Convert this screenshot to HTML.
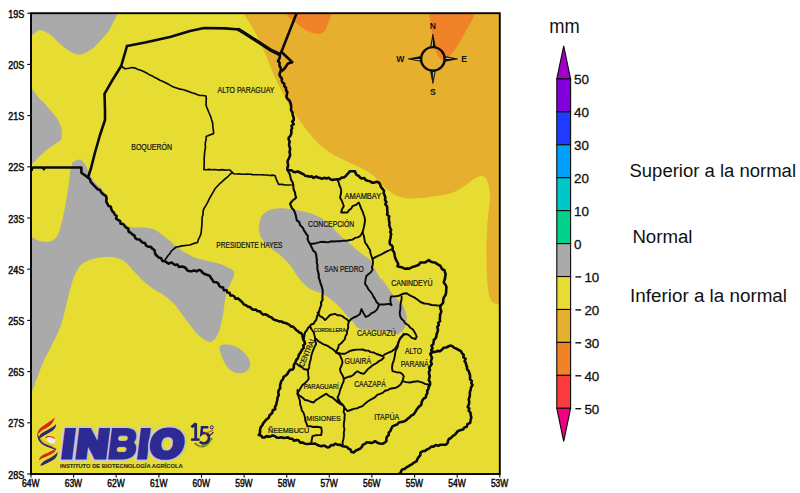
<!DOCTYPE html>
<html lang="es"><head><meta charset="utf-8"><title>Anomalía de precipitación</title>
<style>
html,body{margin:0;padding:0;background:#fff;}
body{width:800px;height:493px;overflow:hidden;font-family:"Liberation Sans",sans-serif;}
svg{display:block;}
text{font-family:"Liberation Sans",sans-serif;}
.ax{font-size:11px;fill:#0c0c0c;stroke:#0c0c0c;stroke-width:.5px;}
.dp{fill:#141414;stroke:#141414;stroke-width:.22px;}
.cb{font-size:13.4px;fill:#111;stroke:#111;stroke-width:.3px;}
.lg{font-size:18px;fill:#111;}
.cp{font-size:8.6px;font-weight:bold;fill:#111;text-anchor:middle;}
</style></head><body>
<svg width="800" height="493" viewBox="0 0 800 493">
<rect width="800" height="493" fill="#fff"/>
<defs><clipPath id="fr"><rect x="31.0" y="13.2" width="468.8" height="460.8"/></clipPath></defs>
<g clip-path="url(#fr)">
<rect x="31.0" y="13.2" width="468.8" height="460.8" fill="#e6dc32"/>
<path d="M243.0,0.0 L243.0,8.0 L243.1,8.4 L243.1,9.0 L243.1,9.6 L243.2,10.3 L243.3,11.1 L243.5,12.1 L243.9,13.2 L244.5,14.5 L245.3,16.0 L246.3,17.7 L247.4,19.6 L248.7,21.6 L250.0,23.6 L251.3,25.8 L252.6,27.9 L253.8,30.0 L254.9,32.1 L256.0,34.3 L257.2,36.5 L258.3,38.8 L259.4,41.0 L260.5,43.3 L261.5,45.4 L262.5,47.5 L263.4,49.5 L264.2,51.4 L265.0,53.3 L265.8,55.2 L266.5,57.0 L267.2,58.8 L268.0,60.6 L268.8,62.5 L269.5,64.4 L270.3,66.2 L271.0,68.1 L271.8,70.0 L272.6,71.9 L273.3,73.8 L274.2,75.6 L275.0,77.5 L275.9,79.4 L276.8,81.3 L277.8,83.2 L278.7,85.2 L279.7,87.1 L280.7,88.9 L281.6,90.7 L282.5,92.5 L283.4,94.2 L284.2,95.9 L285.1,97.6 L285.9,99.2 L286.7,100.8 L287.5,102.2 L288.3,103.7 L289.0,105.0 L289.7,106.2 L290.3,107.3 L290.9,108.3 L291.5,109.3 L292.1,110.2 L292.7,111.1 L293.3,112.0 L294.0,113.0 L294.7,114.0 L295.4,115.0 L296.1,115.9 L296.8,116.9 L297.6,117.9 L298.4,118.9 L299.2,119.9 L300.0,121.0 L300.8,122.1 L301.7,123.3 L302.6,124.5 L303.5,125.8 L304.4,127.1 L305.4,128.3 L306.4,129.7 L307.5,131.0 L308.6,132.4 L309.8,133.8 L311.0,135.3 L312.2,136.8 L313.5,138.2 L314.8,139.7 L316.1,141.1 L317.5,142.5 L318.9,143.8 L320.4,145.2 L321.9,146.4 L323.4,147.7 L325.0,149.0 L326.6,150.2 L328.3,151.4 L330.0,152.5 L331.8,153.6 L333.6,154.7 L335.4,155.7 L337.3,156.7 L339.3,157.7 L341.2,158.6 L343.1,159.6 L345.0,160.5 L346.9,161.4 L348.8,162.3 L350.7,163.2 L352.7,164.0 L354.6,164.9 L356.4,165.7 L358.2,166.6 L360.0,167.5 L361.7,168.4 L363.4,169.3 L365.0,170.2 L366.6,171.1 L368.1,172.0 L369.6,172.9 L371.1,173.9 L372.5,175.0 L373.9,176.1 L375.2,177.4 L376.4,178.6 L377.7,179.9 L378.9,181.2 L380.1,182.5 L381.3,183.8 L382.5,185.0 L383.7,186.2 L384.9,187.3 L386.1,188.5 L387.3,189.6 L388.6,190.7 L389.8,191.7 L391.1,192.6 L392.5,193.5 L393.9,194.3 L395.4,195.0 L396.9,195.7 L398.4,196.3 L400.0,196.8 L401.6,197.3 L403.3,197.7 L405.0,198.0 L406.8,198.2 L408.6,198.4 L410.4,198.4 L412.3,198.4 L414.3,198.3 L416.2,198.2 L418.1,198.1 L420.0,198.0 L421.9,197.9 L423.8,197.7 L425.6,197.5 L427.5,197.3 L429.4,197.1 L431.2,196.8 L433.1,196.5 L435.0,196.2 L436.9,196.0 L438.8,195.7 L440.7,195.4 L442.7,195.1 L444.6,194.8 L446.4,194.4 L448.2,194.0 L450.0,193.5 L451.7,192.9 L453.4,192.3 L455.0,191.6 L456.6,190.8 L458.1,190.0 L459.6,189.2 L461.1,188.3 L462.5,187.5 L463.9,186.6 L465.2,185.6 L466.5,184.6 L467.8,183.6 L469.0,182.6 L470.2,181.6 L471.4,180.8 L472.5,180.0 L473.6,179.3 L474.6,178.7 L475.6,178.1 L476.6,177.6 L477.5,177.1 L478.4,176.7 L479.2,176.5 L480.0,176.2 L480.8,176.1 L481.5,176.1 L482.1,176.1 L482.8,176.2 L483.3,176.4 L483.9,176.6 L484.5,177.0 L485.0,177.5 L485.5,178.1 L486.0,178.8 L486.5,179.6 L487.0,180.5 L487.4,181.5 L487.8,182.6 L488.2,183.8 L488.5,185.0 L488.8,186.3 L489.1,187.8 L489.3,189.3 L489.5,190.9 L489.7,192.6 L489.9,194.3 L490.0,195.9 L490.0,197.5 L490.0,199.1 L489.9,200.6 L489.7,202.2 L489.5,203.8 L489.3,205.3 L489.1,206.9 L488.9,208.4 L488.8,210.0 L488.6,211.6 L488.4,213.2 L488.2,214.8 L488.1,216.4 L487.9,218.0 L487.8,219.6 L487.6,221.1 L487.5,222.5 L487.4,223.9 L487.3,225.1 L487.3,226.3 L487.2,227.5 L487.2,228.7 L487.1,229.9 L487.1,231.1 L487.0,232.5 L486.9,234.0 L486.8,235.5 L486.8,237.1 L486.7,238.8 L486.6,240.4 L486.5,242.0 L486.4,243.5 L486.4,245.0 L486.4,246.4 L486.4,247.6 L486.4,248.8 L486.4,250.0 L486.4,251.2 L486.5,252.4 L486.5,253.7 L486.5,255.0 L486.5,256.4 L486.5,257.8 L486.5,259.3 L486.5,260.8 L486.5,262.3 L486.5,263.9 L486.6,265.4 L486.6,267.0 L486.7,268.6 L486.7,270.3 L486.8,271.9 L486.9,273.6 L487.0,275.3 L487.1,277.0 L487.2,278.5 L487.3,280.0 L487.4,281.4 L487.5,282.7 L487.6,284.0 L487.7,285.2 L487.8,286.4 L487.9,287.6 L488.1,288.6 L488.2,289.7 L488.3,290.7 L488.5,291.7 L488.7,292.6 L488.8,293.4 L489.0,294.2 L489.2,295.0 L489.4,295.8 L489.6,296.5 L489.8,297.2 L490.0,297.8 L490.2,298.4 L490.4,299.0 L490.6,299.6 L490.9,300.1 L491.2,300.5 L491.5,301.0 L491.9,301.4 L492.3,301.8 L492.7,302.2 L493.1,302.5 L493.6,302.8 L494.1,303.1 L494.5,303.4 L495.0,303.6 L495.5,303.8 L495.9,303.9 L496.4,304.1 L496.8,304.2 L497.3,304.2 L497.8,304.3 L498.4,304.3 L499.0,304.4 L499.7,304.5 L500.5,304.5 L501.4,304.5 L502.2,304.5 L503.1,304.6 L503.9,304.6 L504.5,304.6 L505.0,304.6 L510.0,304.6 L510.0,0.0Z" fill="#e6af2d"/>
<path d="M287.0,0.0 L287.0,8.0 L287.0,8.6 L287.0,9.4 L287.0,10.4 L286.9,11.5 L287.0,12.6 L287.0,13.7 L287.2,14.7 L287.5,15.5 L287.9,16.2 L288.4,16.8 L288.9,17.3 L289.6,17.8 L290.2,18.3 L291.0,18.8 L291.7,19.4 L292.5,20.0 L293.3,20.7 L294.2,21.4 L295.1,22.2 L296.1,23.0 L297.1,23.8 L298.1,24.5 L299.0,25.3 L300.0,26.0 L300.9,26.7 L301.9,27.4 L302.8,28.0 L303.7,28.7 L304.6,29.3 L305.6,29.9 L306.5,30.5 L307.5,31.0 L308.5,31.5 L309.6,32.0 L310.6,32.4 L311.7,32.8 L312.8,33.1 L313.9,33.4 L315.0,33.6 L316.0,33.8 L317.0,33.8 L318.1,33.8 L319.1,33.7 L320.2,33.5 L321.2,33.2 L322.1,32.9 L323.0,32.5 L323.8,32.0 L324.4,31.4 L325.0,30.7 L325.5,29.9 L325.9,29.0 L326.3,28.0 L326.7,27.0 L327.1,26.0 L327.5,25.0 L328.0,23.9 L328.5,22.8 L328.9,21.5 L329.4,20.3 L329.9,19.0 L330.3,17.8 L330.7,16.6 L331.0,15.5 L331.3,14.4 L331.4,13.3 L331.6,12.2 L331.7,11.2 L331.8,10.2 L331.9,9.3 L331.9,8.6 L332.0,8.0 L332.0,0.0Z" fill="#f08228"/>
<path d="M429.0,0.0 L429.0,8.0 L429.0,8.5 L429.1,9.2 L429.1,10.0 L429.2,10.9 L429.2,11.8 L429.3,12.9 L429.4,13.9 L429.5,15.0 L429.6,16.1 L429.8,17.2 L430.0,18.4 L430.2,19.7 L430.4,20.9 L430.6,22.3 L430.8,23.6 L431.0,25.0 L431.2,26.4 L431.3,27.9 L431.4,29.5 L431.5,31.1 L431.6,32.7 L431.8,34.3 L432.0,35.8 L432.2,37.4 L432.5,39.0 L432.8,40.6 L433.2,42.2 L433.6,43.8 L434.0,45.4 L434.4,46.8 L434.8,48.2 L435.2,49.5 L435.6,50.6 L436.0,51.7 L436.3,52.6 L436.7,53.5 L437.1,54.3 L437.5,55.0 L437.9,55.7 L438.3,56.4 L438.7,57.0 L439.1,57.6 L439.5,58.2 L439.9,58.6 L440.3,59.1 L440.7,59.4 L441.2,59.6 L441.7,59.8 L442.3,59.9 L442.8,59.9 L443.4,59.8 L444.1,59.6 L444.7,59.3 L445.4,59.0 L446.2,58.6 L446.9,58.1 L447.7,57.5 L448.6,56.8 L449.5,55.9 L450.4,55.0 L451.3,54.1 L452.2,53.1 L453.0,52.1 L453.8,51.2 L454.5,50.3 L455.1,49.4 L455.8,48.4 L456.3,47.4 L456.9,46.5 L457.4,45.5 L458.0,44.6 L458.5,43.8 L459.0,42.9 L459.5,42.2 L460.0,41.4 L460.4,40.7 L460.9,40.0 L461.4,39.2 L461.9,38.3 L462.4,37.4 L463.0,36.4 L463.6,35.3 L464.2,34.1 L464.9,32.9 L465.5,31.7 L466.2,30.4 L466.8,29.2 L467.5,28.0 L468.2,26.8 L468.9,25.6 L469.6,24.4 L470.3,23.3 L471.0,22.1 L471.7,20.9 L472.3,19.6 L472.8,18.4 L473.3,17.1 L473.7,15.6 L474.1,14.1 L474.5,12.6 L474.8,11.2 L475.1,9.9 L475.3,8.8 L475.5,8.0 L476.0,0.0Z" fill="#f08228"/>
<path d="M15.0,0.0 L120.0,0.0 L118.0,8.0 L117.9,8.5 L117.9,9.1 L117.9,9.8 L117.8,10.7 L117.7,11.6 L117.5,12.5 L117.3,13.5 L117.0,14.5 L116.6,15.6 L116.1,16.7 L115.6,17.9 L115.0,19.1 L114.4,20.4 L113.7,21.6 L113.1,22.8 L112.5,24.0 L111.9,25.1 L111.3,26.2 L110.8,27.3 L110.2,28.3 L109.6,29.4 L108.9,30.4 L108.2,31.4 L107.5,32.5 L106.7,33.6 L105.8,34.6 L104.9,35.7 L103.9,36.8 L102.9,37.9 L101.9,38.9 L101.0,40.0 L100.0,41.0 L99.1,42.0 L98.1,43.0 L97.2,44.0 L96.2,45.0 L95.3,46.0 L94.4,46.9 L93.4,47.7 L92.5,48.5 L91.6,49.2 L90.6,49.9 L89.6,50.5 L88.7,51.1 L87.7,51.7 L86.8,52.2 L85.9,52.6 L85.0,53.0 L84.2,53.4 L83.4,53.7 L82.6,54.0 L81.8,54.2 L81.0,54.4 L80.2,54.5 L79.4,54.5 L78.5,54.5 L77.5,54.4 L76.6,54.2 L75.5,53.9 L74.5,53.6 L73.4,53.2 L72.3,52.7 L71.1,52.1 L70.0,51.5 L68.8,50.8 L67.5,49.9 L66.2,49.0 L64.9,48.0 L63.6,47.0 L62.4,46.0 L61.1,45.0 L60.0,44.0 L58.9,43.0 L57.9,42.1 L57.0,41.1 L56.1,40.1 L55.2,39.1 L54.3,38.2 L53.4,37.3 L52.5,36.5 L51.6,35.7 L50.6,35.0 L49.6,34.3 L48.7,33.6 L47.7,33.0 L46.8,32.4 L45.9,31.9 L45.0,31.5 L44.1,31.1 L43.3,30.8 L42.5,30.6 L41.7,30.4 L40.9,30.3 L40.1,30.3 L39.3,30.3 L38.5,30.5 L37.7,30.8 L37.0,31.2 L36.3,31.7 L35.6,32.2 L34.8,32.9 L34.1,33.6 L33.3,34.3 L32.5,35.0 L31.6,35.8 L30.6,36.7 L29.5,37.7 L28.4,38.8 L27.3,39.8 L26.4,40.7 L25.6,41.4 L25.0,42.0 L15.0,42.0Z" fill="#aaaaaa"/>
<path d="M15.0,78.0 L26.0,80.0 L26.4,80.6 L27.0,81.4 L27.7,82.3 L28.4,83.4 L29.2,84.5 L30.0,85.7 L30.8,86.8 L31.6,87.9 L32.4,89.0 L33.1,90.1 L33.9,91.3 L34.7,92.4 L35.5,93.6 L36.3,94.7 L37.1,95.8 L37.9,96.8 L38.7,97.7 L39.5,98.6 L40.4,99.4 L41.2,100.2 L42.1,101.0 L42.9,101.8 L43.8,102.6 L44.6,103.5 L45.4,104.4 L46.3,105.4 L47.2,106.4 L48.0,107.4 L48.9,108.4 L49.7,109.4 L50.5,110.4 L51.3,111.3 L52.1,112.2 L52.8,113.1 L53.5,113.9 L54.3,114.7 L54.9,115.5 L55.6,116.4 L56.2,117.2 L56.8,118.0 L57.3,118.8 L57.8,119.7 L58.3,120.6 L58.7,121.4 L59.2,122.3 L59.5,123.1 L59.9,123.9 L60.2,124.7 L60.5,125.5 L60.7,126.2 L61.0,126.9 L61.2,127.6 L61.3,128.3 L61.5,129.0 L61.6,129.7 L61.7,130.3 L61.8,130.9 L61.8,131.6 L61.9,132.2 L61.9,132.7 L61.9,133.3 L61.9,133.9 L61.8,134.4 L61.8,135.0 L61.8,135.5 L61.8,136.1 L61.9,136.6 L61.9,137.1 L61.9,137.6 L61.8,138.1 L61.6,138.7 L61.3,139.2 L60.9,139.7 L60.3,140.3 L59.6,140.9 L58.9,141.4 L58.1,142.0 L57.3,142.6 L56.5,143.1 L55.7,143.7 L54.9,144.2 L54.1,144.8 L53.3,145.3 L52.4,145.8 L51.6,146.4 L50.7,146.9 L49.8,147.5 L49.0,148.1 L48.2,148.7 L47.3,149.4 L46.4,150.1 L45.6,150.8 L44.7,151.5 L43.9,152.3 L43.1,153.0 L42.3,153.7 L41.5,154.4 L40.8,155.1 L40.1,155.8 L39.4,156.6 L38.7,157.3 L38.0,158.0 L37.3,158.7 L36.7,159.3 L36.1,159.9 L35.6,160.5 L35.0,161.0 L34.5,161.5 L34.0,162.0 L33.5,162.6 L32.9,163.2 L32.3,163.8 L31.6,164.5 L30.7,165.4 L29.8,166.3 L28.9,167.2 L28.0,168.1 L27.2,168.8 L26.5,169.5 L26.0,170.0 L15.0,170.0Z" fill="#aaaaaa"/>
<path d="M72.5,162.5 L72.8,162.3 L73.1,162.1 L73.5,161.8 L73.9,161.5 L74.4,161.2 L74.9,160.9 L75.5,160.7 L76.0,160.5 L76.6,160.3 L77.1,160.1 L77.8,159.9 L78.4,159.8 L79.1,159.6 L79.7,159.6 L80.4,159.7 L81.0,160.0 L81.6,160.4 L82.3,161.0 L82.9,161.6 L83.6,162.4 L84.2,163.2 L84.8,164.1 L85.4,165.1 L86.0,166.0 L86.5,167.0 L87.0,168.1 L87.5,169.2 L88.0,170.4 L88.5,171.6 L89.0,172.8 L89.5,173.9 L90.0,175.0 L90.6,176.0 L91.1,177.0 L91.7,177.9 L92.3,178.8 L92.9,179.8 L93.6,180.7 L94.2,181.6 L95.0,182.5 L95.8,183.4 L96.8,184.4 L97.8,185.3 L98.8,186.3 L99.8,187.2 L100.8,188.2 L101.7,189.1 L102.5,190.0 L103.2,190.9 L103.9,191.8 L104.5,192.7 L105.1,193.5 L105.7,194.4 L106.2,195.3 L106.6,196.1 L107.0,197.0 L107.3,197.9 L107.5,198.7 L107.6,199.6 L107.7,200.4 L107.8,201.3 L107.9,202.1 L108.1,203.1 L108.5,204.0 L109.0,205.0 L109.6,206.0 L110.2,207.1 L111.0,208.2 L111.7,209.3 L112.5,210.4 L113.3,211.5 L114.0,212.5 L114.7,213.5 L115.4,214.5 L116.1,215.5 L116.9,216.4 L117.6,217.3 L118.4,218.3 L119.2,219.1 L120.0,220.0 L120.9,220.9 L121.8,221.7 L122.7,222.6 L123.7,223.4 L124.7,224.1 L125.7,224.9 L126.6,225.5 L127.5,226.0 L128.3,226.4 L129.1,226.7 L129.8,227.0 L130.5,227.1 L131.3,227.2 L132.1,227.3 L133.0,227.4 L134.0,227.5 L135.2,227.6 L136.5,227.5 L137.8,227.5 L139.3,227.4 L140.8,227.4 L142.2,227.4 L143.6,227.4 L145.0,227.5 L146.3,227.7 L147.6,227.9 L148.9,228.1 L150.2,228.4 L151.5,228.8 L152.7,229.1 L153.9,229.6 L155.0,230.0 L156.1,230.5 L157.1,231.1 L158.0,231.6 L158.9,232.3 L159.8,232.9 L160.7,233.6 L161.6,234.3 L162.5,235.0 L163.4,235.7 L164.4,236.4 L165.3,237.2 L166.2,237.9 L167.2,238.7 L168.1,239.4 L169.1,240.2 L170.0,241.0 L170.9,241.8 L171.9,242.6 L172.8,243.5 L173.8,244.3 L174.7,245.2 L175.6,246.0 L176.6,246.8 L177.5,247.5 L178.4,248.2 L179.3,248.9 L180.2,249.5 L181.1,250.1 L182.0,250.7 L182.9,251.3 L183.9,251.9 L185.0,252.5 L186.1,253.1 L187.3,253.8 L188.5,254.4 L189.7,255.1 L191.0,255.7 L192.3,256.4 L193.6,256.9 L195.0,257.5 L196.4,258.0 L197.9,258.5 L199.5,258.9 L201.1,259.4 L202.7,259.8 L204.3,260.2 L205.9,260.6 L207.5,261.0 L209.1,261.4 L210.6,261.7 L212.2,262.0 L213.8,262.3 L215.3,262.7 L216.9,263.1 L218.4,263.5 L220.0,264.0 L221.6,264.6 L223.4,265.3 L225.2,266.1 L226.9,266.9 L228.6,267.7 L230.1,268.5 L231.5,269.3 L232.5,270.0 L233.2,270.7 L233.8,271.3 L234.1,271.8 L234.2,272.4 L234.3,273.0 L234.2,273.6 L234.1,274.3 L234.0,275.0 L233.8,275.8 L233.6,276.7 L233.2,277.6 L232.8,278.6 L232.4,279.6 L231.9,280.6 L231.4,281.5 L231.0,282.5 L230.6,283.4 L230.1,284.3 L229.7,285.2 L229.2,286.1 L228.8,287.0 L228.3,287.9 L227.9,288.9 L227.5,290.0 L227.1,291.1 L226.8,292.3 L226.4,293.6 L226.1,294.8 L225.8,296.1 L225.5,297.4 L225.2,298.7 L225.0,300.0 L224.8,301.2 L224.6,302.5 L224.5,303.7 L224.4,304.9 L224.2,306.1 L224.1,307.4 L223.9,308.7 L223.8,310.0 L223.5,311.4 L223.3,312.9 L223.0,314.4 L222.7,316.0 L222.4,317.6 L222.1,319.1 L221.8,320.6 L221.5,322.0 L221.2,323.4 L220.9,324.7 L220.5,326.0 L220.2,327.3 L219.9,328.6 L219.5,329.8 L219.1,330.9 L218.8,332.0 L218.3,333.0 L217.9,334.1 L217.5,335.0 L217.0,335.9 L216.5,336.8 L216.0,337.6 L215.5,338.3 L215.0,339.0 L214.4,339.6 L213.8,340.1 L213.2,340.6 L212.6,341.1 L211.9,341.4 L211.3,341.7 L210.6,341.9 L210.0,342.0 L209.4,342.0 L208.8,341.9 L208.2,341.8 L207.7,341.6 L207.1,341.3 L206.4,340.9 L205.7,340.5 L205.0,340.0 L204.2,339.5 L203.3,338.9 L202.4,338.2 L201.4,337.4 L200.4,336.6 L199.4,335.8 L198.5,334.9 L197.5,334.0 L196.6,333.0 L195.6,332.0 L194.7,330.9 L193.8,329.8 L192.8,328.6 L191.9,327.4 L190.9,326.2 L190.0,325.0 L189.1,323.8 L188.1,322.6 L187.2,321.3 L186.2,320.1 L185.3,318.8 L184.4,317.5 L183.4,316.3 L182.5,315.0 L181.6,313.7 L180.7,312.5 L179.8,311.2 L178.9,309.9 L178.0,308.7 L177.1,307.4 L176.1,306.2 L175.0,305.0 L173.9,303.8 L172.7,302.6 L171.4,301.4 L170.2,300.2 L168.9,299.1 L167.6,298.0 L166.3,297.0 L165.0,296.0 L163.8,295.1 L162.5,294.3 L161.2,293.6 L160.0,292.9 L158.8,292.2 L157.5,291.5 L156.2,290.8 L155.0,290.0 L153.8,289.2 L152.5,288.3 L151.2,287.4 L150.0,286.5 L148.8,285.6 L147.5,284.6 L146.2,283.6 L145.0,282.5 L143.7,281.4 L142.4,280.1 L141.1,278.9 L139.8,277.6 L138.6,276.2 L137.3,275.0 L136.1,273.7 L135.0,272.5 L133.9,271.3 L132.9,270.2 L132.0,269.0 L131.1,267.9 L130.2,266.9 L129.3,265.8 L128.4,264.9 L127.5,264.0 L126.6,263.2 L125.7,262.4 L124.8,261.7 L123.9,261.1 L123.0,260.5 L122.1,260.0 L121.1,259.5 L120.0,259.0 L118.9,258.6 L117.7,258.2 L116.5,257.9 L115.3,257.6 L114.0,257.4 L112.7,257.2 L111.4,257.1 L110.0,257.0 L108.5,257.0 L107.0,257.0 L105.4,257.1 L103.8,257.2 L102.1,257.3 L100.5,257.5 L99.0,257.8 L97.5,258.0 L96.1,258.3 L94.8,258.6 L93.5,258.9 L92.2,259.2 L91.0,259.6 L89.8,260.1 L88.6,260.5 L87.5,261.0 L86.4,261.5 L85.4,262.0 L84.4,262.4 L83.5,263.0 L82.6,263.6 L81.7,264.2 L80.9,265.1 L80.0,266.0 L79.1,267.1 L78.3,268.4 L77.5,269.8 L76.6,271.3 L75.9,272.8 L75.1,274.4 L74.4,276.0 L73.8,277.5 L73.2,279.0 L72.6,280.5 L72.2,282.0 L71.7,283.5 L71.3,285.1 L70.9,286.7 L70.5,288.3 L70.0,290.0 L69.5,291.8 L69.1,293.6 L68.6,295.4 L68.1,297.3 L67.7,299.3 L67.2,301.2 L66.7,303.1 L66.2,305.0 L65.8,306.9 L65.3,308.8 L64.9,310.7 L64.4,312.7 L64.0,314.6 L63.5,316.4 L63.0,318.2 L62.5,320.0 L62.0,321.7 L61.4,323.4 L60.9,325.0 L60.3,326.7 L59.7,328.2 L59.1,329.7 L58.6,331.1 L58.0,332.5 L57.5,333.7 L56.9,334.9 L56.4,335.9 L55.9,336.9 L55.4,337.9 L54.9,338.9 L54.3,339.9 L53.8,341.0 L53.2,342.2 L52.6,343.4 L51.9,344.6 L51.3,345.9 L50.7,347.2 L50.0,348.5 L49.4,349.7 L48.8,351.0 L48.1,352.3 L47.5,353.5 L46.8,354.8 L46.2,356.1 L45.5,357.3 L44.9,358.6 L44.3,359.8 L43.8,361.0 L43.2,362.2 L42.7,363.3 L42.3,364.4 L41.8,365.5 L41.4,366.6 L40.9,367.7 L40.5,368.8 L40.0,370.0 L39.5,371.2 L39.1,372.4 L38.6,373.7 L38.1,374.9 L37.7,376.2 L37.2,377.5 L36.7,378.7 L36.2,380.0 L35.8,381.2 L35.4,382.5 L35.0,383.7 L34.5,384.9 L34.1,386.1 L33.6,387.4 L33.1,388.7 L32.5,390.0 L31.8,391.5 L30.9,393.1 L30.0,394.9 L29.0,396.6 L28.1,398.3 L27.2,399.8 L26.5,401.1 L26.0,402.0 L15.0,402.0 L15.0,235.0 L25.0,235.5 L25.6,235.6 L26.4,235.8 L27.4,236.1 L28.4,236.3 L29.5,236.6 L30.6,236.9 L31.6,237.2 L32.5,237.5 L33.3,237.8 L34.0,238.2 L34.7,238.6 L35.3,239.0 L36.0,239.5 L36.6,239.8 L37.3,240.2 L38.0,240.5 L38.7,240.8 L39.5,241.0 L40.2,241.2 L41.0,241.4 L41.7,241.5 L42.5,241.6 L43.2,241.7 L44.0,241.8 L44.8,241.9 L45.5,241.9 L46.3,241.9 L47.1,241.9 L47.8,241.9 L48.6,241.8 L49.3,241.7 L50.0,241.5 L50.7,241.3 L51.3,241.0 L52.0,240.7 L52.6,240.4 L53.2,240.0 L53.8,239.6 L54.4,239.1 L55.0,238.5 L55.5,237.9 L56.1,237.3 L56.6,236.7 L57.1,236.0 L57.5,235.2 L58.0,234.3 L58.5,233.2 L59.0,232.0 L59.5,230.5 L60.0,228.9 L60.5,227.1 L61.0,225.2 L61.6,223.1 L62.1,221.1 L62.5,219.0 L63.0,217.0 L63.4,215.0 L63.9,212.8 L64.3,210.7 L64.7,208.5 L65.1,206.3 L65.5,204.2 L65.9,202.0 L66.2,200.0 L66.6,198.0 L67.0,196.1 L67.3,194.1 L67.6,192.2 L67.9,190.4 L68.2,188.5 L68.5,186.7 L68.8,185.0 L69.0,183.3 L69.1,181.6 L69.3,180.0 L69.4,178.4 L69.5,176.9 L69.6,175.4 L69.8,173.9 L70.0,172.5 L70.3,171.1 L70.6,169.6 L71.0,168.1 L71.3,166.7 L71.7,165.4 L72.0,164.2 L72.3,163.3 L72.5,162.5Z" fill="#aaaaaa"/>
<path d="M262.5,215.0 L263.2,214.3 L264.0,213.6 L264.8,212.9 L265.8,212.2 L266.8,211.6 L267.8,211.0 L268.9,210.5 L270.0,210.0 L271.1,209.6 L272.3,209.3 L273.5,209.0 L274.7,208.7 L276.0,208.5 L277.3,208.4 L278.6,208.3 L280.0,208.2 L281.4,208.3 L282.9,208.3 L284.4,208.4 L285.9,208.6 L287.5,208.8 L289.1,209.0 L290.8,209.2 L292.5,209.5 L294.3,209.8 L296.1,210.1 L298.1,210.4 L300.0,210.8 L301.9,211.2 L303.9,211.6 L305.7,212.0 L307.5,212.5 L309.2,213.0 L310.9,213.6 L312.5,214.1 L314.1,214.7 L315.6,215.4 L317.1,216.0 L318.6,216.7 L320.0,217.5 L321.4,218.3 L322.7,219.2 L324.1,220.1 L325.3,221.1 L326.6,222.1 L327.8,223.1 L328.9,224.0 L330.0,225.0 L331.0,226.0 L332.0,226.9 L332.9,227.9 L333.8,228.9 L334.6,229.8 L335.4,230.8 L336.2,231.7 L337.0,232.5 L337.8,233.3 L338.5,234.0 L339.3,234.7 L340.0,235.4 L340.7,236.0 L341.5,236.7 L342.2,237.3 L343.0,238.0 L343.8,238.7 L344.6,239.3 L345.4,240.0 L346.2,240.7 L347.1,241.4 L348.0,242.1 L349.0,242.9 L350.0,243.8 L351.1,244.7 L352.3,245.8 L353.5,246.9 L354.8,248.0 L356.1,249.2 L357.4,250.3 L358.7,251.4 L360.0,252.5 L361.3,253.5 L362.6,254.4 L364.0,255.3 L365.3,256.2 L366.6,257.1 L367.9,258.0 L369.0,259.0 L370.0,260.0 L370.9,261.1 L371.6,262.1 L372.2,263.3 L372.8,264.4 L373.3,265.6 L373.9,266.7 L374.4,267.9 L375.0,269.0 L375.6,270.2 L376.3,271.4 L377.0,272.7 L377.6,273.9 L378.3,275.1 L378.9,276.2 L379.5,277.2 L380.0,278.0 L380.4,278.5 L380.8,278.9 L381.1,279.0 L381.4,279.1 L381.7,279.2 L382.0,279.3 L382.4,279.5 L382.8,280.0 L383.3,280.7 L383.9,281.5 L384.5,282.4 L385.2,283.4 L385.8,284.5 L386.5,285.5 L387.2,286.5 L387.8,287.5 L388.4,288.4 L389.0,289.3 L389.7,290.2 L390.3,291.1 L390.9,292.0 L391.5,292.9 L392.2,293.7 L392.8,294.5 L393.4,295.3 L394.1,296.0 L394.7,296.7 L395.3,297.4 L396.0,298.0 L396.6,298.7 L397.3,299.3 L397.9,300.0 L398.5,300.6 L399.2,301.3 L399.9,301.9 L400.6,302.4 L401.2,303.0 L401.8,303.7 L402.4,304.3 L402.9,305.0 L403.3,305.7 L403.7,306.5 L404.1,307.3 L404.4,308.1 L404.7,308.9 L404.9,309.8 L405.2,310.6 L405.4,311.4 L405.6,312.2 L405.9,313.0 L406.1,313.8 L406.2,314.6 L406.4,315.3 L406.5,316.1 L406.6,316.9 L406.7,317.7 L406.7,318.5 L406.7,319.3 L406.7,320.1 L406.6,320.9 L406.5,321.7 L406.3,322.5 L406.2,323.2 L406.0,324.0 L405.8,324.8 L405.5,325.5 L405.3,326.3 L405.0,327.0 L404.7,327.7 L404.3,328.4 L403.9,329.1 L403.5,329.7 L403.0,330.3 L402.5,330.8 L401.9,331.4 L401.3,331.9 L400.7,332.4 L400.1,332.8 L399.5,333.2 L399.0,333.5 L398.5,333.8 L398.1,334.0 L397.6,334.2 L397.2,334.4 L396.8,334.5 L396.3,334.6 L395.8,334.6 L395.3,334.5 L394.8,334.3 L394.3,334.1 L393.7,333.8 L393.2,333.4 L392.6,333.0 L391.9,332.6 L391.0,332.3 L390.0,332.0 L388.8,331.8 L387.5,331.5 L386.0,331.3 L384.5,331.2 L382.8,331.0 L381.1,330.8 L379.4,330.7 L377.7,330.5 L375.9,330.4 L373.9,330.3 L371.9,330.2 L369.8,330.1 L367.7,330.0 L365.8,329.9 L364.1,329.7 L362.6,329.5 L361.4,329.2 L360.4,328.9 L359.5,328.6 L358.8,328.2 L358.2,327.9 L357.6,327.4 L357.0,327.0 L356.4,326.5 L355.8,326.0 L355.3,325.4 L354.9,324.8 L354.4,324.1 L354.0,323.5 L353.6,322.8 L353.1,322.2 L352.6,321.5 L352.0,320.9 L351.5,320.3 L350.9,319.8 L350.4,319.2 L349.7,318.6 L349.1,317.9 L348.3,317.1 L347.5,316.2 L346.6,315.2 L345.6,314.0 L344.5,312.7 L343.4,311.4 L342.2,310.0 L341.0,308.7 L339.9,307.4 L338.8,306.2 L337.6,305.2 L336.5,304.1 L335.4,303.1 L334.3,302.2 L333.2,301.3 L332.1,300.4 L331.0,299.6 L330.0,298.8 L329.0,298.0 L328.1,297.3 L327.2,296.6 L326.3,296.0 L325.4,295.4 L324.5,294.9 L323.5,294.3 L322.5,293.8 L321.4,293.2 L320.1,292.8 L318.8,292.3 L317.5,291.9 L316.2,291.4 L314.9,291.0 L313.6,290.5 L312.5,290.0 L311.4,289.5 L310.4,288.9 L309.5,288.4 L308.6,287.8 L307.7,287.2 L306.8,286.5 L305.9,285.8 L305.0,285.0 L304.1,284.1 L303.1,283.1 L302.2,282.1 L301.2,281.0 L300.3,279.9 L299.4,278.7 L298.4,277.5 L297.5,276.2 L296.6,275.0 L295.7,273.6 L294.8,272.2 L293.9,270.7 L293.0,269.2 L292.1,267.8 L291.1,266.4 L290.0,265.0 L288.9,263.7 L287.7,262.4 L286.4,261.0 L285.2,259.8 L283.9,258.5 L282.6,257.3 L281.3,256.1 L280.0,255.0 L278.7,254.0 L277.5,253.0 L276.2,252.1 L274.9,251.2 L273.7,250.4 L272.4,249.5 L271.2,248.5 L270.0,247.5 L268.8,246.4 L267.6,245.2 L266.4,243.9 L265.2,242.7 L264.0,241.4 L263.0,240.1 L262.0,238.8 L261.2,237.5 L260.6,236.2 L260.1,234.9 L259.7,233.6 L259.4,232.3 L259.1,231.0 L259.0,229.8 L258.8,228.6 L258.8,227.5 L258.7,226.5 L258.8,225.6 L258.9,224.8 L259.1,224.0 L259.3,223.2 L259.5,222.5 L259.8,221.8 L260.0,221.0 L260.2,220.2 L260.4,219.4 L260.6,218.7 L260.9,217.9 L261.1,217.2 L261.5,216.4 L261.9,215.7Z" fill="#aaaaaa"/>
<path d="M220.0,346.2 L220.5,345.8 L221.3,345.4 L222.1,345.1 L223.1,344.8 L224.2,344.6 L225.3,344.5 L226.4,344.5 L227.5,344.5 L228.6,344.6 L229.9,344.8 L231.2,345.1 L232.5,345.5 L233.8,345.9 L235.1,346.4 L236.4,346.9 L237.5,347.5 L238.6,348.1 L239.6,348.8 L240.6,349.6 L241.6,350.3 L242.5,351.2 L243.4,352.0 L244.2,352.9 L245.0,353.8 L245.8,354.6 L246.6,355.5 L247.3,356.5 L248.0,357.4 L248.7,358.4 L249.2,359.3 L249.7,360.3 L250.0,361.2 L250.2,362.2 L250.2,363.2 L250.2,364.2 L250.1,365.2 L249.9,366.2 L249.6,367.1 L249.2,368.0 L248.8,368.8 L248.2,369.5 L247.6,370.2 L246.8,370.8 L246.0,371.4 L245.2,371.9 L244.3,372.3 L243.4,372.7 L242.5,373.0 L241.6,373.2 L240.7,373.3 L239.7,373.3 L238.8,373.2 L237.8,373.1 L236.8,373.0 L235.9,372.8 L235.0,372.5 L234.2,372.2 L233.3,371.9 L232.5,371.5 L231.7,371.1 L230.9,370.6 L230.2,370.0 L229.5,369.4 L228.8,368.8 L228.1,368.0 L227.4,367.2 L226.7,366.3 L226.1,365.3 L225.4,364.3 L224.8,363.3 L224.3,362.3 L223.8,361.2 L223.2,360.2 L222.8,359.1 L222.3,358.0 L221.8,356.8 L221.4,355.7 L221.1,354.5 L220.8,353.5 L220.5,352.5 L220.3,351.6 L220.0,350.7 L219.8,349.8 L219.6,348.9 L219.5,348.2 L219.5,347.4 L219.7,346.8Z" fill="#aaaaaa"/>
<g fill="none" stroke="#0a0a0a" stroke-linejoin="round" stroke-linecap="round">
<g stroke-width="1.65">
<path d="M121.0,66.0 L125.0,68.8 L128.8,68.2 L132.5,67.5 L135.1,68.1 L137.5,69.3 L140.0,70.0 L142.6,71.1 L145.1,72.3 L147.6,73.6 L149.9,75.1 L152.6,76.1 L154.9,77.6 L157.5,78.8 L159.9,80.3 L162.5,81.2 L165.0,82.4 L167.5,83.7 L170.0,85.1 L172.4,86.4 L175.0,87.5 L177.5,88.3 L180.0,89.1 L182.6,89.5 L185.1,90.3 L187.5,91.1 L190.0,92.0 L192.5,93.0 L195.0,93.6 L197.5,94.7 L200.0,95.5 L203.0,95.5 L206.0,96.0 L206.3,99.0 L206.1,102.0 L206.0,105.0 L206.9,107.5 L207.9,110.0 L208.9,112.5 L210.0,115.0 L211.0,117.5 L211.7,120.0 L212.5,122.5 L212.8,125.3 L213.0,128.1 L213.5,130.9 L213.5,133.8 L209.8,134.9 L206.2,136.5 L206.2,139.2 L205.5,141.8 L205.2,144.4 L205.5,147.1 L205.0,149.7 L204.6,152.3 L204.5,155.0 L204.1,157.9 L204.2,160.8 L204.2,163.7 L204.1,166.6 L203.8,169.5"/>
<path d="M203.8,169.5 L206.4,169.8 L209.0,169.4 L211.6,169.7 L214.3,169.5 L216.9,169.8 L219.5,170.1 L222.1,169.6 L224.7,170.1 L227.4,170.0 L230.0,170.0 L231.7,172.0 L233.8,173.8 L236.5,174.0 L239.3,173.8 L242.0,174.3 L244.8,174.2 L247.5,174.0 L250.3,174.2 L253.0,174.6 L255.8,174.7 L258.5,174.7 L261.3,174.7 L264.0,174.9 L266.8,175.0 L269.5,175.5 L272.3,175.1 L275.0,175.5 L276.1,178.6 L277.3,181.6 L278.8,184.5 L281.9,184.4 L285.0,185.0 L288.1,185.0 L291.2,185.0"/>
<path d="M232.5,172.5 L230.2,174.2 L228.2,176.3 L226.0,178.2 L223.8,180.0 L221.6,182.2 L219.2,184.2 L217.1,186.5 L215.0,188.8 L213.4,191.7 L211.7,194.6 L210.0,197.5 L208.6,200.4 L207.1,203.3 L205.5,206.1 L203.8,208.8 L203.1,211.5 L203.0,214.4 L202.2,217.1 L202.0,220.0 L202.0,223.1 L201.8,226.3 L201.4,229.4 L201.2,232.5 L200.5,235.1 L199.4,237.5 L198.2,239.9 L197.5,242.5 L194.9,243.1 L192.4,244.0 L190.0,245.0 L187.2,245.3 L184.5,245.6 L181.7,245.9 L179.0,246.6 L176.2,247.0 L173.7,249.0 L171.2,251.2 L169.9,253.6 L168.0,255.5 L166.6,257.8 L165.0,260.0"/>
</g><g stroke-width="1.9">
<path d="M310.0,243.8 L313.0,243.7 L316.0,243.2 L319.0,242.4 L321.9,241.8 L325.0,242.0 L328.0,242.4 L331.0,241.3 L334.0,241.5 L337.0,241.2 L340.0,241.2 L343.3,240.6 L346.7,240.7 L350.0,240.0 L352.7,239.6 L354.9,237.9 L357.6,237.4 L360.0,236.2 L362.5,232.5"/>
<path d="M337.5,180.0 L338.7,182.4 L339.3,185.0 L340.4,187.5 L341.2,190.0 L341.0,193.8 L340.0,197.5 L341.6,200.3 L342.8,203.2 L343.8,206.2 L342.0,209.2 L341.2,212.5 L344.4,212.5 L347.5,212.5 L348.9,210.2 L351.2,208.6 L352.5,206.2 L355.9,204.9 L358.8,202.5 L360.1,205.6 L361.2,208.8 L362.6,211.4 L363.5,214.3 L364.5,217.0 L365.0,220.0 L364.6,223.8 L363.8,227.5 L362.5,232.5"/>
<path d="M362.5,232.5 L363.8,235.7 L364.5,239.1 L365.0,242.5 L366.9,244.8 L368.3,247.5 L370.0,250.0 L370.4,253.0 L371.4,255.9 L372.5,258.8 L375.0,257.4 L377.5,256.2 L380.0,255.0 L382.5,253.8 L384.9,252.4 L387.4,251.1 L390.0,250.0 L392.5,249.0"/>
<path d="M372.5,259.0 L373.0,261.8 L372.8,264.5 L371.9,267.2 L372.5,270.0 L370.7,272.4 L368.3,274.2 L366.2,276.2 L365.5,280.0 L365.0,283.8 L367.0,286.3 L368.2,289.0 L370.2,291.3 L372.0,293.7 L373.3,296.4 L375.1,299.1 L376.5,302.0 L379.0,304.5 L384.0,304.5 L389.0,303.9 L391.6,305.2 L390.7,302.7 L390.3,300.0 L391.0,296.4 L395.3,296.4 L399.0,295.7 L402.9,293.8 L406.7,293.2 L410.4,295.7 L413.0,296.8 L415.5,298.2 L418.0,300.0 L420.5,302.0 L424.1,303.5 L428.0,303.9 L431.7,305.0 L435.6,305.2 L438.3,305.6 L441.0,305.2"/>
<path d="M379.0,305.0 L377.0,309.6 L374.5,311.9 L371.4,313.3 L368.9,315.6 L365.8,317.0 L363.3,312.7 L361.4,309.0 L360.0,314.0 L356.4,316.5 L353.7,317.5 L351.3,319.0 L348.8,321.5 L347.0,319.4 L344.6,318.0 L342.5,316.2 L340.0,315.3 L337.3,315.2 L335.0,313.8 L330.0,315.0 L327.6,317.6 L325.0,320.0 L322.8,317.7 L320.0,316.2 L317.5,312.5"/>
<path d="M348.8,321.5 L348.1,324.6 L348.2,327.8 L347.1,330.8 L346.9,334.0 L345.4,336.3 L345.0,339.0 L343.1,341.2 L341.2,343.3 L338.8,345.0 L338.3,347.6 L337.1,350.0 L336.2,352.5"/>
<path d="M310.0,326.2 L311.7,329.5 L313.8,332.5 L315.0,337.5 L315.1,340.7 L316.2,343.8 L314.8,346.4 L313.6,349.2 L312.5,352.0 L311.4,355.3 L310.9,358.7 L310.0,362.0 L309.3,364.7 L309.2,367.5 L308.0,370.0 L303.8,369.0 L301.7,367.1 L299.1,365.9 L297.0,364.0"/>
<path d="M316.2,339.0 L318.0,341.0 L320.3,342.3 L322.5,343.8 L325.1,344.8 L327.7,345.9 L330.0,347.5 L333.2,349.5 L336.0,352.0"/>
<path d="M308.0,370.0 L308.1,372.9 L308.3,375.9 L308.8,378.8 L307.0,381.2 L304.9,383.3 L302.5,385.0 L300.6,388.1 L298.8,391.2 L297.5,393.8"/>
<path d="M297.5,393.8 L299.9,395.9 L302.6,397.8 L305.0,400.0 L308.0,400.5 L310.8,401.8 L313.8,402.5 L315.5,400.4 L317.8,399.0 L320.0,397.5 L323.1,395.6 L326.2,393.8 L329.1,396.1 L332.5,397.5 L334.9,399.7 L337.2,402.0 L340.0,403.8 L343.0,405.5"/>
<path d="M336.2,352.5 L340.0,355.0 L340.9,357.5 L342.0,359.9 L342.5,362.5 L341.5,365.7 L340.0,368.8 L340.4,371.4 L341.6,373.8 L343.0,376.2 L343.8,378.8 L343.5,381.8 L342.1,384.6 L341.2,387.5 L340.1,389.9 L339.5,392.5 L338.7,395.1 L337.5,397.5 L340.0,402.0"/>
<path d="M336.2,352.5 L339.1,353.1 L342.0,353.8 L345.0,353.8 L347.8,352.2 L350.6,350.7 L353.8,350.0 L356.7,349.6 L359.6,349.6 L362.5,349.5 L365.3,350.5 L368.2,350.6 L370.8,352.1 L373.8,352.5 L376.6,354.0 L379.6,355.0 L382.5,356.2 L385.4,354.1 L388.8,352.5 L392.2,351.1 L395.0,348.8 L397.5,345.0 L398.5,341.8 L400.0,338.8 L402.2,336.5 L403.8,333.8"/>
<path d="M343.8,378.8 L346.1,377.6 L348.6,376.8 L351.2,376.2 L353.5,374.8 L355.3,372.7 L357.5,371.2 L360.4,373.0 L363.8,373.8 L365.8,371.7 L367.7,369.3 L370.0,367.5 L372.0,365.7 L374.3,364.3 L376.7,363.0 L378.8,361.2 L381.6,359.8 L383.8,357.5"/>
<path d="M401.6,296.4 L401.6,299.4 L400.9,302.3 L400.4,305.2 L400.4,309.0 L399.7,312.7 L400.1,316.0 L401.6,319.0 L403.8,320.9 L405.4,323.4 L408.3,325.2 L410.4,327.8 L412.7,329.3 L414.2,331.6 L415.6,334.0 L416.7,336.6 L415.5,339.0 L411.7,337.9 L409.5,335.6 L406.7,334.0 L403.5,334.7 L400.4,337.9 L399.0,341.0 L398.2,344.2 L397.5,347.5 L396.1,349.8 L395.3,352.3 L395.0,355.0 L394.4,358.0 L393.7,360.9 L392.5,363.8 L392.0,367.5 L392.5,371.2 L396.2,372.2 L400.0,372.5 L402.3,374.0 L403.8,376.2 L402.5,381.2"/>
<path d="M402.5,381.2 L406.2,382.1 L410.0,382.5 L413.7,381.7 L417.5,381.2 L420.0,381.9 L422.6,382.7 L425.0,383.8 L430.0,385.0"/>
<path d="M402.5,381.2 L400.9,384.0 L398.8,386.2 L396.0,387.7 L393.0,388.2 L390.0,388.8 L387.6,390.2 L384.8,390.8 L382.7,392.9 L380.0,393.8 L377.2,394.8 L375.2,397.2 L372.6,398.6 L370.0,400.0 L367.3,401.8 L364.8,403.9 L362.5,406.2 L359.6,407.2 L356.8,408.4 L353.8,408.8 L350.6,410.0 L347.5,411.2 L345.5,408.8 L343.8,406.2 L342.0,403.8 L339.3,402.3 L337.5,400.0"/>
<path d="M343.8,406.2 L344.1,409.0 L343.6,411.8 L344.8,414.5 L344.5,417.2 L344.5,420.0 L343.9,423.1 L343.8,426.2 L344.5,429.4 L343.8,432.5 L343.9,435.9 L343.4,439.2 L342.5,442.5 L343.0,446.2"/>
<path d="M297.5,390.0 L297.6,393.8 L298.8,397.5 L299.9,400.8 L300.1,404.2 L301.2,407.5 L301.7,410.2 L303.3,412.4 L304.3,414.9 L305.0,417.5 L305.3,420.6 L306.5,423.4 L307.5,426.2 L310.3,426.2 L313.0,427.0 L315.8,426.8 L318.5,427.0 L321.2,427.5 L321.8,431.2 L321.2,435.0 L318.3,435.1 L315.3,435.3 L312.5,436.2 L311.7,440.0 L311.2,443.8"/>
</g><g stroke-width="2.1">
<path d="M287.5,170.0 L288.8,172.4 L290.0,174.8 L290.5,177.4 L291.2,180.0 L292.6,182.3 L293.2,184.8 L293.4,187.4 L293.8,190.0 L295.0,192.4 L295.3,195.0 L296.2,197.5 L294.7,199.0 L292.8,200.3 L291.4,202.0 L290.0,203.8 L291.0,206.0 L292.0,208.2 L293.8,210.0 L294.8,212.4 L295.7,214.9 L296.2,217.5 L296.8,220.3 L299.3,222.2 L300.0,225.0 L303.0,228.0 L303.8,230.1 L305.0,231.9 L306.2,233.8 L307.9,236.0 L307.6,238.9 L308.5,241.5 L310.0,243.8 L311.1,246.1 L312.2,248.4 L313.3,250.7 L315.5,252.5 L316.2,255.0 L316.5,257.5 L316.9,260.0 L316.7,262.6 L317.5,265.0 L317.3,267.6 L317.6,270.1 L318.3,272.5 L318.8,275.0 L318.8,277.7 L319.7,280.1 L320.3,282.6 L321.2,285.0 L322.0,287.4 L322.6,289.9 L322.8,292.4 L322.5,295.0 L322.4,297.5 L322.5,300.1 L321.0,302.4 L321.2,305.0 L320.3,307.5 L319.4,309.9 L318.8,312.5 L317.7,314.9 L316.8,317.4 L316.2,320.0 L314.7,321.6 L313.7,323.7 L311.2,324.4 L310.0,326.2 L308.0,328.1 L306.7,330.4 L305.0,332.5 L304.3,335.6 L303.8,338.8"/>
</g><g stroke-width="2.6">
<path d="M127.0,46.0 L145.0,42.5 L170.0,37.0 L190.0,31.0 L204.0,28.0 L225.0,28.4 L239.5,29.5 L245.2,33.3 L257.7,41.4 L270.3,49.6 L280.0,54.0"/>
<path d="M280.0,54.0 L280.0,56.0 L279.4,58.6 L278.0,61.0 L279.6,62.9 L279.4,65.5 L280.5,67.5 L281.1,70.1 L279.8,72.5 L279.5,75.0 L280.5,76.8 L281.9,78.4 L281.7,80.6 L282.5,82.5 L284.3,83.9 L284.4,86.2 L286.0,87.7 L286.0,90.0 L287.3,92.0 L286.9,94.3 L286.4,96.7 L287.5,98.8 L289.4,100.4 L290.4,102.6 L291.0,105.0 L291.2,107.6 L291.0,110.2 L292.5,112.5 L292.7,115.0 L293.6,117.5 L293.8,120.0 L292.2,121.7 L293.7,124.2 L291.5,125.8 L292.2,128.1 L291.2,130.0 L291.5,132.2 L291.1,134.2 L290.2,136.1 L288.6,137.8 L288.8,140.0 L289.7,141.9 L289.1,144.0 L289.2,146.0 L290.0,148.0 L290.0,150.0 L289.5,152.0 L290.1,154.2 L289.8,156.2 L289.0,158.1 L288.0,160.0 L287.5,162.0 L288.0,164.0 L288.1,166.0 L287.4,168.0 L287.5,170.0 L289.6,170.3 L291.8,170.4 L293.6,171.9 L295.7,172.1 L298.0,171.5 L300.0,172.5 L301.8,173.5 L303.7,174.3 L305.3,175.9 L307.5,176.0 L309.5,176.8 L311.7,176.2 L313.6,178.0 L316.0,176.5 L317.9,177.5 L320.0,178.0 L322.1,178.8 L324.4,177.7 L326.4,178.6 L328.7,177.8 L330.7,179.4 L332.8,179.9 L335.0,179.5 L337.2,179.2 L339.6,179.3 L341.5,177.6 L343.8,177.5 L345.6,176.2 L347.0,174.5 L348.6,172.9 L350.0,171.2 L352.5,171.2 L355.0,171.2 L355.7,173.3 L356.7,175.0 L358.8,175.9 L360.0,177.5 L361.9,178.6 L364.3,178.1 L365.8,180.2 L367.9,180.8 L370.0,181.2 L372.0,182.6 L374.3,182.6 L376.6,181.7 L378.8,182.5 L380.2,184.5 L380.9,186.9 L382.5,188.8 L384.0,190.8 L383.6,193.2 L384.7,195.3 L385.3,197.6 L385.0,200.0 L386.4,201.9 L385.3,204.3 L387.0,206.1 L387.2,208.2 L387.3,210.4 L387.5,212.5 L387.1,214.7 L389.2,216.3 L388.8,218.5 L389.0,220.5 L389.5,222.5 L389.3,225.2 L390.0,227.7 L391.2,230.0 L390.2,231.9 L391.2,234.1 L390.7,236.0 L390.6,238.0 L390.0,240.0 L389.7,242.2 L390.0,244.2 L392.2,245.8 L392.7,247.8 L392.5,250.0 L393.8,251.8 L394.5,253.8 L394.8,256.0 L395.3,258.1 L396.2,260.0 L397.2,262.0 L398.2,264.0 L397.5,266.2 L400.1,266.9 L402.6,267.6 L405.0,268.8 L407.0,268.4 L409.2,268.7 L411.1,267.7 L413.0,266.8 L415.0,266.2 L417.0,265.5 L418.9,264.7 L420.2,262.6 L422.5,262.5 L424.9,262.5 L426.9,261.4 L428.8,260.0 L430.5,261.6 L432.7,262.3 L435.0,262.5 L436.7,263.6 L438.3,264.8 L440.2,265.6 L441.2,267.5 L442.3,269.3 L444.5,270.3 L445.0,272.5 L445.7,274.6 L445.1,276.6 L445.0,278.6 L444.3,280.5 L443.8,282.5 L445.5,284.7 L446.5,287.2 L446.2,290.0 L446.1,292.7 L445.4,295.3 L443.8,297.5 L443.2,300.1 L443.1,302.8 L441.2,305.0 L440.2,306.9 L440.5,309.0 L441.3,311.1 L440.8,313.1 L440.0,315.0 L440.1,317.0 L439.8,319.0 L440.1,321.1 L438.2,322.9 L438.8,325.0 L437.3,327.1 L438.0,329.7 L437.5,332.0 L436.6,334.0 L436.4,336.4 L435.5,338.4 L433.8,340.0 L433.6,342.1 L433.3,344.1 L431.5,345.8 L432.5,348.2 L431.2,350.0 L432.3,352.0 L430.3,354.0 L431.2,356.0 L432.0,358.0 L431.2,360.0 L430.9,362.0 L431.8,364.1 L430.4,366.0 L429.2,367.9 L430.0,370.0 L429.0,371.9 L429.1,373.9 L429.8,376.1 L429.3,378.0 L428.8,380.0 L430.1,382.3 L430.0,385.0 L428.7,386.8 L428.4,389.0 L427.2,390.8 L427.4,393.1 L426.2,395.0 L425.8,397.3 L423.6,398.7 L422.3,400.5 L421.6,402.7 L421.2,405.0 L419.2,406.4 L417.6,408.3 L416.2,410.3 L415.0,412.5 L413.5,414.5 L411.2,415.6 L409.6,417.4 L407.5,418.8 L405.7,420.6 L403.5,421.6 L401.1,422.0 L398.8,422.5 L397.2,424.5 L394.7,425.3 L392.5,426.4 L391.2,428.8 L390.5,430.9 L388.7,432.6 L388.8,435.0 L387.0,436.6 L386.3,438.6 L386.5,441.0 L384.7,442.6 L382.5,443.8 L379.8,443.5 L377.3,442.7 L375.0,441.2 L373.2,442.4 L371.2,442.9 L368.9,442.5 L366.8,442.4 L365.0,443.8 L362.8,444.9 L361.7,447.1 L360.0,448.8 L357.7,449.7 L355.5,450.7 L353.8,452.5 L351.5,452.0 L350.6,449.7 L348.8,448.8 L347.0,447.1 L344.8,446.5 L342.5,446.2 L340.2,444.9 L337.5,444.6 L335.0,443.8 L333.4,445.3 L331.0,445.1 L329.5,446.9 L327.5,447.5 L325.7,446.4 L323.8,445.5 L321.4,446.2 L319.4,445.7 L317.5,445.0 L315.2,443.6 L312.6,443.7 L310.0,443.8 L307.4,444.0 L304.9,443.7 L302.5,442.5 L300.2,442.6 L298.6,440.4 L296.4,440.0 L293.9,440.7 L292.3,438.7 L290.0,438.8 L288.0,437.4 L285.8,437.7 L283.5,438.0 L281.4,437.2 L279.2,437.8 L277.0,437.7 L275.0,436.2 L272.8,435.4 L270.8,436.3 L268.7,436.8 L266.6,436.1 L264.6,437.4 L262.5,437.5 L261.1,435.6 L258.8,435.0 L260.1,432.7 L260.0,430.0 L260.7,427.2 L262.5,425.0 L263.3,423.1 L264.6,421.6 L265.8,420.0 L267.5,418.8 L268.9,417.3 L269.6,415.3 L271.1,414.0 L272.5,412.5 L272.7,410.3 L275.2,409.2 L275.0,406.7 L276.2,405.0 L276.6,402.5 L277.3,400.0 L277.5,397.5 L278.8,395.1 L278.2,392.5 L278.8,390.0 L280.3,388.1 L280.0,385.6 L280.7,383.5 L281.2,381.2 L282.9,379.4 L283.6,376.8 L285.8,375.5 L287.5,373.8 L288.6,371.7 L289.9,369.9 L292.7,369.5 L293.8,367.5 L293.9,364.8 L295.4,362.5 L296.2,360.0 L297.7,358.5 L298.4,356.6 L298.9,354.6 L300.3,353.0 L301.2,351.2 L302.3,349.4 L303.7,347.8 L303.3,345.2 L305.0,343.8 L304.5,341.5 L303.2,339.5 L302.7,337.3 L302.5,335.0 L301.3,333.3 L299.4,332.5 L297.9,331.1 L296.2,330.0 L294.8,328.3 L293.3,326.8 L290.9,326.4 L289.4,324.8 L287.5,323.8 L285.4,323.1 L283.3,322.5 L281.4,321.5 L279.1,321.4 L277.1,320.6 L275.0,320.0 L273.0,319.1 L271.5,317.2 L269.4,316.7 L267.6,315.4 L265.7,314.3 L263.1,314.6 L261.4,313.1 L259.9,311.3 L257.5,311.2 L256.0,309.5 L253.3,309.8 L251.5,308.7 L249.9,307.0 L247.7,306.6 L246.0,305.2 L243.9,304.4 L242.5,302.5 L241.0,301.1 L239.5,299.8 L238.0,298.4 L235.4,298.7 L234.4,296.5 L232.7,295.5 L230.4,295.4 L229.6,292.9 L227.5,292.5 L226.5,290.3 L223.8,290.2 L223.1,287.6 L220.7,287.1 L219.1,285.6 L218.2,283.3 L216.3,282.2 L213.7,282.0 L212.5,280.0 L211.1,278.2 L210.0,276.2 L208.1,275.2 L206.1,274.5 L204.0,273.7 L202.3,272.4 L200.9,270.6 L198.8,270.0 L196.7,271.4 L194.4,270.5 L192.2,271.1 L190.0,271.2 L187.7,270.8 L186.4,269.0 L185.0,267.5 L183.1,266.7 L181.0,266.5 L178.8,266.9 L177.3,264.5 L175.0,265.0 L173.2,263.7 L171.4,262.5 L168.7,263.6 L166.8,262.5 L165.0,261.2 L162.4,260.9 L161.1,258.2 L158.8,257.5 L157.1,256.0 L155.6,254.5 L154.9,252.3 L154.5,250.0 L152.5,248.8 L150.9,246.9 L148.2,246.7 L146.1,245.7 L145.0,243.0 L142.5,242.5 L140.9,241.0 L139.4,239.5 L136.9,239.2 L135.2,237.9 L134.4,235.5 L132.5,234.5 L130.8,232.9 L128.6,231.6 L128.3,228.6 L126.0,227.5 L124.6,225.8 L123.3,224.0 L120.6,223.7 L120.1,220.9 L118.0,220.0 L116.1,218.6 L116.6,215.9 L114.7,214.4 L113.8,212.5 L112.2,211.0 L111.3,208.9 L110.8,206.7 L108.3,205.8 L107.5,203.8 L106.2,201.3 L106.6,198.6 L106.0,196.0 L104.1,194.9 L102.4,193.6 L101.0,192.0 L100.0,190.0 L97.5,189.2 L95.8,187.4 L94.1,185.6 L92.5,183.8 L90.7,181.9 L90.0,179.2 L88.0,177.5"/>
<path d="M88.0,177.5 L91.2,167.5 L95.0,152.5 L100.0,135.0 L105.0,120.0 L105.0,110.0 L104.5,93.8 L112.5,80.0 L121.2,66.0 L127.0,46.0"/>
<path d="M31.6,170.0 L32.4,167.8 L34.0,167.5 L43.0,167.5 L43.8,169.2 L44.6,167.5 L81.3,167.5 L81.5,173.0 L84.0,174.6 L88.0,177.5"/>
<path d="M281.3,52.0 L296.7,13.0"/>
<path d="M281.6,52.0 L292.3,62.2 L288.0,63.5 L284.2,69.0 L281.0,71.6"/>
<path d="M431.2,352.5 L433.4,351.7 L435.6,351.9 L437.7,350.9 L440.0,351.2 L441.9,349.7 L443.6,347.8 L446.2,347.5 L448.2,346.5 L450.2,345.6 L452.5,346.2 L454.3,347.9 L456.6,348.8 L458.8,350.0 L460.9,351.2 L462.1,353.3 L463.8,355.0 L463.3,357.2 L465.6,358.8 L464.6,361.2 L465.9,363.0 L466.2,365.0 L467.0,367.0 L467.1,369.3 L468.7,370.9 L469.2,373.0 L470.0,375.0 L470.1,377.1 L470.0,379.3 L471.8,380.9 L471.3,383.2 L472.5,385.0 L471.1,387.3 L470.6,390.0 L469.8,392.3 L469.9,394.7 L469.5,397.1 L468.7,399.4 L469.3,402.1 L468.8,404.6 L467.7,407.0 L469.3,408.5 L468.7,410.9 L470.4,412.4 L470.6,414.5 L471.3,417.4 L470.6,420.2 L470.1,422.9 L467.4,424.2 L466.8,426.8 L464.4,427.5 L463.0,429.6 L460.1,430.2 L457.4,431.5 L456.1,433.4 L454.6,435.0 L452.6,436.2 L451.0,438.0 L448.9,439.0 L448.0,440.9 L447.6,443.1 L446.0,444.7 L443.2,444.8 L440.4,444.7 L438.3,445.8 L435.7,445.0 L433.8,446.6 L431.2,446.6 L429.4,448.4 L427.2,449.4 L425.1,450.9 L422.5,451.3 L420.4,452.6 L420.3,455.3 L418.7,457.0 L417.4,459.1 L416.4,461.4 L414.0,462.6 L412.2,464.1 L410.2,465.2 L408.3,466.4 L406.4,467.3 L404.8,468.9 L402.6,469.2 L401.2,470.8 L400.7,473.1 L398.5,474.0"/>
<path d="M238.5,29.6 L245.2,33.6 L257.7,41.7 L270.3,49.9 L279,54.2" stroke-width="3.3"/>
</g></g>
<text class="dp" x="217.50" y="93.00" font-size="8.2" textLength="57.00" lengthAdjust="spacingAndGlyphs">ALTO PARAGUAY</text>
<text class="dp" x="131.25" y="149.50" font-size="8.2" textLength="40.75" lengthAdjust="spacingAndGlyphs">BOQUERÓN</text>
<text class="dp" x="344.50" y="199.30" font-size="8.2" textLength="36.75" lengthAdjust="spacingAndGlyphs">AMAMBAY</text>
<text class="dp" x="308.00" y="227.00" font-size="8.2" textLength="46.25" lengthAdjust="spacingAndGlyphs">CONCEPCIÓN</text>
<text class="dp" x="216.25" y="248.00" font-size="8.2" textLength="66.25" lengthAdjust="spacingAndGlyphs">PRESIDENTE HAYES</text>
<text class="dp" x="324.25" y="272.00" font-size="8.2" textLength="39.50" lengthAdjust="spacingAndGlyphs">SAN PEDRO</text>
<text class="dp" x="391.25" y="285.50" font-size="8.2" textLength="41.25" lengthAdjust="spacingAndGlyphs">CANINDEYÚ</text>
<text class="dp" x="313.75" y="331.80" font-size="5.8" textLength="32.00" lengthAdjust="spacingAndGlyphs">CORDILLERA</text>
<text class="dp" x="357.00" y="336.00" font-size="8.2" textLength="38.75" lengthAdjust="spacingAndGlyphs">CAAGUAZÚ</text>
<text class="dp" x="344.50" y="364.25" font-size="8.2" textLength="26.75" lengthAdjust="spacingAndGlyphs">GUAIRÁ</text>
<text class="dp" x="405.00" y="353.75" font-size="8.2" textLength="17.00" lengthAdjust="spacingAndGlyphs">ALTO</text>
<text class="dp" x="400.75" y="366.50" font-size="8.2" textLength="28.00" lengthAdjust="spacingAndGlyphs">PARANÁ</text>
<text class="dp" x="354.25" y="387.00" font-size="8.2" textLength="31.50" lengthAdjust="spacingAndGlyphs">CAAZAPÁ</text>
<text class="dp" x="303.75" y="389.25" font-size="7.6" textLength="35.00" lengthAdjust="spacingAndGlyphs">PARAGUARÍ</text>
<text class="dp" x="306.25" y="420.50" font-size="7.8" textLength="34.50" lengthAdjust="spacingAndGlyphs">MISIONES</text>
<text class="dp" x="374.25" y="419.50" font-size="8.2" textLength="25.00" lengthAdjust="spacingAndGlyphs">ITAPÚA</text>
<text class="dp" x="268.00" y="433.00" font-size="7.8" textLength="41.25" lengthAdjust="spacingAndGlyphs">ÑEEMBUCÚ</text>
<text class="dp" font-size="7.6" textLength="31" lengthAdjust="spacingAndGlyphs" transform="translate(303.5,367.5) rotate(-67)">CENTRAL</text>
</g>
<rect x="31.0" y="13.2" width="468.8" height="460.8" fill="none" stroke="#000" stroke-width="1.9"/>
<line x1="27.3" x2="30.2" y1="13.2" y2="13.2" stroke="#000" stroke-width="1.1"/>
<text class="ax" x="8.3" y="17.8" textLength="16" lengthAdjust="spacingAndGlyphs">19S</text>
<line x1="27.3" x2="30.2" y1="64.4" y2="64.4" stroke="#000" stroke-width="1.1"/>
<text class="ax" x="8.3" y="69.0" textLength="16" lengthAdjust="spacingAndGlyphs">20S</text>
<line x1="27.3" x2="30.2" y1="115.6" y2="115.6" stroke="#000" stroke-width="1.1"/>
<text class="ax" x="8.3" y="120.2" textLength="16" lengthAdjust="spacingAndGlyphs">21S</text>
<line x1="27.3" x2="30.2" y1="166.8" y2="166.8" stroke="#000" stroke-width="1.1"/>
<text class="ax" x="8.3" y="171.4" textLength="16" lengthAdjust="spacingAndGlyphs">22S</text>
<line x1="27.3" x2="30.2" y1="218.0" y2="218.0" stroke="#000" stroke-width="1.1"/>
<text class="ax" x="8.3" y="222.6" textLength="16" lengthAdjust="spacingAndGlyphs">23S</text>
<line x1="27.3" x2="30.2" y1="269.2" y2="269.2" stroke="#000" stroke-width="1.1"/>
<text class="ax" x="8.3" y="273.8" textLength="16" lengthAdjust="spacingAndGlyphs">24S</text>
<line x1="27.3" x2="30.2" y1="320.4" y2="320.4" stroke="#000" stroke-width="1.1"/>
<text class="ax" x="8.3" y="325.0" textLength="16" lengthAdjust="spacingAndGlyphs">25S</text>
<line x1="27.3" x2="30.2" y1="371.6" y2="371.6" stroke="#000" stroke-width="1.1"/>
<text class="ax" x="8.3" y="376.2" textLength="16" lengthAdjust="spacingAndGlyphs">26S</text>
<line x1="27.3" x2="30.2" y1="422.8" y2="422.8" stroke="#000" stroke-width="1.1"/>
<text class="ax" x="8.3" y="427.4" textLength="16" lengthAdjust="spacingAndGlyphs">27S</text>
<line x1="27.3" x2="30.2" y1="474.0" y2="474.0" stroke="#000" stroke-width="1.1"/>
<text class="ax" x="8.3" y="478.6" textLength="16" lengthAdjust="spacingAndGlyphs">28S</text>
<line y1="474.8" y2="477.6" x1="31.0" x2="31.0" stroke="#000" stroke-width="1.1"/>
<text class="ax" x="22.1" y="487.3" textLength="17.4" lengthAdjust="spacingAndGlyphs">64W</text>
<line y1="474.8" y2="477.6" x1="73.6" x2="73.6" stroke="#000" stroke-width="1.1"/>
<text class="ax" x="64.7" y="487.3" textLength="17.4" lengthAdjust="spacingAndGlyphs">63W</text>
<line y1="474.8" y2="477.6" x1="116.2" x2="116.2" stroke="#000" stroke-width="1.1"/>
<text class="ax" x="107.3" y="487.3" textLength="17.4" lengthAdjust="spacingAndGlyphs">62W</text>
<line y1="474.8" y2="477.6" x1="158.9" x2="158.9" stroke="#000" stroke-width="1.1"/>
<text class="ax" x="150.0" y="487.3" textLength="17.4" lengthAdjust="spacingAndGlyphs">61W</text>
<line y1="474.8" y2="477.6" x1="201.5" x2="201.5" stroke="#000" stroke-width="1.1"/>
<text class="ax" x="192.6" y="487.3" textLength="17.4" lengthAdjust="spacingAndGlyphs">60W</text>
<line y1="474.8" y2="477.6" x1="244.1" x2="244.1" stroke="#000" stroke-width="1.1"/>
<text class="ax" x="235.2" y="487.3" textLength="17.4" lengthAdjust="spacingAndGlyphs">59W</text>
<line y1="474.8" y2="477.6" x1="286.7" x2="286.7" stroke="#000" stroke-width="1.1"/>
<text class="ax" x="277.8" y="487.3" textLength="17.4" lengthAdjust="spacingAndGlyphs">58W</text>
<line y1="474.8" y2="477.6" x1="329.3" x2="329.3" stroke="#000" stroke-width="1.1"/>
<text class="ax" x="320.4" y="487.3" textLength="17.4" lengthAdjust="spacingAndGlyphs">57W</text>
<line y1="474.8" y2="477.6" x1="371.9" x2="371.9" stroke="#000" stroke-width="1.1"/>
<text class="ax" x="363.0" y="487.3" textLength="17.4" lengthAdjust="spacingAndGlyphs">56W</text>
<line y1="474.8" y2="477.6" x1="414.6" x2="414.6" stroke="#000" stroke-width="1.1"/>
<text class="ax" x="405.7" y="487.3" textLength="17.4" lengthAdjust="spacingAndGlyphs">55W</text>
<line y1="474.8" y2="477.6" x1="457.2" x2="457.2" stroke="#000" stroke-width="1.1"/>
<text class="ax" x="448.3" y="487.3" textLength="17.4" lengthAdjust="spacingAndGlyphs">54W</text>
<line y1="474.8" y2="477.6" x1="499.8" x2="499.8" stroke="#000" stroke-width="1.1"/>
<text class="ax" x="490.9" y="487.3" textLength="17.4" lengthAdjust="spacingAndGlyphs">53W</text>
<g id="compass">
<circle cx="432.9" cy="58.9" r="11.8" fill="none" stroke="#0a0a0a" stroke-width="2.4"/>
<g transform="translate(432.9,58.9) rotate(0)">
<path d="M0,-24.6 L2.3,-12.6 L-2.3,-12.6Z" fill="#0a0a0a" stroke="#0a0a0a" stroke-width=".7" stroke-linejoin="round"/>
<path d="M0,-20.5 L-1.5,-13 L0,-13Z" fill="#d9c27a"/>
</g>
<g transform="translate(432.9,58.9) rotate(90)">
<path d="M0,-24.6 L2.3,-12.6 L-2.3,-12.6Z" fill="#0a0a0a" stroke="#0a0a0a" stroke-width=".7" stroke-linejoin="round"/>
<path d="M0,-20.5 L-1.5,-13 L0,-13Z" fill="#d9c27a"/>
</g>
<g transform="translate(432.9,58.9) rotate(180)">
<path d="M0,-24.6 L2.3,-12.6 L-2.3,-12.6Z" fill="#0a0a0a" stroke="#0a0a0a" stroke-width=".7" stroke-linejoin="round"/>
<path d="M0,-20.5 L-1.5,-13 L0,-13Z" fill="#d9c27a"/>
</g>
<g transform="translate(432.9,58.9) rotate(270)">
<path d="M0,-24.6 L2.3,-12.6 L-2.3,-12.6Z" fill="#0a0a0a" stroke="#0a0a0a" stroke-width=".7" stroke-linejoin="round"/>
<path d="M0,-20.5 L-1.5,-13 L0,-13Z" fill="#d9c27a"/>
</g>
<text class="cp" x="432.8" y="29.0">N</text>
<text class="cp" x="432.8" y="94.6">S</text>
<text class="cp" x="400.4" y="62.0">W</text>
<text class="cp" x="464.2" y="62.0">E</text>
</g>
<g id="logo">
<g transform="translate(61.40,457.1) skewX(-7) scale(1.046,1)" font-size="38.6" font-weight="bold" stroke-linejoin="miter">
<text x="-0.09" y="0" fill="none" stroke="#c6c6da" stroke-width="8.0">I</text>
<text x="-0.09" y="0" fill="#2d2b93" stroke="#2d2b93" stroke-width="5.0">I</text>
</g>
<g transform="translate(75.50,457.1) skewX(-7) scale(1.121,1)" font-size="38.6" font-weight="bold" stroke-linejoin="miter">
<text x="-0.09" y="0" fill="none" stroke="#c6c6da" stroke-width="8.0">N</text>
<text x="-0.09" y="0" fill="#2d2b93" stroke="#2d2b93" stroke-width="5.0">N</text>
</g>
<g transform="translate(108.30,457.1) skewX(-7) scale(0.940,1)" font-size="38.6" font-weight="bold" stroke-linejoin="miter">
<text x="-0.09" y="0" fill="none" stroke="#c6c6da" stroke-width="8.0">B</text>
<text x="-0.09" y="0" fill="#2d2b93" stroke="#2d2b93" stroke-width="5.0">B</text>
</g>
<g transform="translate(137.30,457.1) skewX(-7) scale(0.932,1)" font-size="38.6" font-weight="bold" stroke-linejoin="miter">
<text x="-0.09" y="0" fill="none" stroke="#c6c6da" stroke-width="8.0">I</text>
<text x="-0.09" y="0" fill="#2d2b93" stroke="#2d2b93" stroke-width="5.0">I</text>
</g>
<g transform="translate(148.30,457.1) skewX(-7) scale(1.085,1)" font-size="38.6" font-weight="bold" stroke-linejoin="miter">
<text x="0.92" y="0" fill="none" stroke="#c6c6da" stroke-width="8.0">O</text>
<text x="0.92" y="0" fill="#2d2b93" stroke="#2d2b93" stroke-width="5.0">O</text>
</g>
<rect x="172.5" y="436.2" width="8.6" height="4.2" rx="1.6" transform="skewX(-7)" fill="#e6dc32" stroke="#c6c6da" stroke-width=".9"/>
<rect x="172.5" y="447.4" width="8.6" height="4.2" rx="1.6" transform="skewX(-7)" fill="#e6dc32" stroke="#c6c6da" stroke-width=".9"/>
<text x="60.1" y="467.6" font-size="5.4" font-weight="bold" fill="#33331c" stroke="#33331c" stroke-width=".15" textLength="122.6" lengthAdjust="spacingAndGlyphs">INSTITUTO DE BIOTECNOLOGÍA AGRÍCOLA</text>
<g stroke="none">
<path d="M37.6,432.5 C38.2,438 43,441.6 48,444.4 C51.5,446.3 55,447.6 56.3,450.2 C52.5,448.6 47,447.2 43,444.8 C39,442.3 36.8,438 37.6,432.5Z" fill="#2a2870"/>
<path d="M39.6,437 C42,440 47,442 51,444 C53.5,445.3 55.3,446.4 56.1,448 C52.5,446.4 47.5,445.4 44,443.4 C41.6,442 40,439.8 39.6,437Z" fill="#e9b52c"/>
<path d="M54.9,417.5 C50.5,421.5 45.5,424 42.2,426.6 C39.3,429 37.6,431 37.5,433.6 C38.4,433.8 38.5,433.9 38.6,433.9 C39.6,432 42,430.4 44.6,429 C48.6,426.8 53.2,424.2 54.9,417.5Z" fill="#d8241c"/>
<path d="M56.2,424 C53.5,427 48,429.8 44.6,431.5 C41.6,433 39.4,434.8 39,437 C39.4,437.9 39.6,438.1 39.8,438.2 C41.2,437 43.6,435.8 47,433.9 C51.6,431.4 56,429.6 56.2,424Z" fill="#2a2870"/>
<path d="M56.2,447.8 C53,451 48,452.8 44.6,454 C41.6,455.4 39.4,457.4 39,460.2 C40,460 41,459.2 41.5,458.8 C43.5,457.6 47,456.6 50.7,454.6 C54,452.8 56.4,451 56.2,447.8Z" fill="#d8241c"/>
<path d="M57.5,452 C55,455.6 50,458 47,459.4 C43.6,461 41,463 40.2,465.8 C41.4,465.8 42.4,465.3 43.4,464.9 C45.4,463.8 49.4,462.4 53.1,460 C56.2,458 57.8,455.4 57.5,452Z" fill="#2a2870"/>
<ellipse cx="51.3" cy="440.2" rx="4.1" ry="3" transform="rotate(25 51.3 440.2)" fill="#f3eaea"/>
<path d="M45.5,437.4 C48.2,436 52,436.6 54.6,438.4" stroke="#d8241c" stroke-width="1.1" fill="none"/>
</g>
<g fill="none" stroke="#23226c" stroke-linecap="butt" stroke-linejoin="miter">
<path d="M191.4,427.2 L195.7,423.6 L195.7,439.4" stroke-width="2.8" stroke-linejoin="bevel"/>
<path d="M191,439.6 H199.6" stroke-width="2.5"/>
<path d="M208.3,427.2 H202 L201.4,434 C203.2,432.4 209,432.6 209,437.8 C209,443.4 203,445 199.8,441.6" stroke-width="2.6"/>
<path d="M205.2,433.2 C208,432.6 211,431.4 213.2,429.8" stroke="#e2541c" stroke-width="1.3"/>
<path d="M208,436.4 C210,435.6 212,434 213.4,432.2" stroke="#23226c" stroke-width="1.2"/>
<circle cx="211.7" cy="427.3" r="1.5" stroke-width="1"/>
</g>
<path id="arc15" d="M193.6,442.6 C197,449.5 208,450.5 213.2,437" fill="none"/>
<text font-size="3.1" font-weight="bold" fill="#2a2a30" letter-spacing=".25"><textPath href="#arc15" startOffset="1">ANIVERSARIO</textPath></text>
</g>
<g stroke="#0a0a0a" stroke-width="1.1" stroke-linejoin="miter">
<path d="M556.8,78.9 L563.7,45.8 L570.6,78.9Z" fill="#a000c8"/>
<rect x="556.8" y="78.90" width="13.8" height="32.94" fill="#8200dc"/>
<rect x="556.8" y="111.84" width="13.8" height="32.94" fill="#1e3cff"/>
<rect x="556.8" y="144.78" width="13.8" height="32.94" fill="#00a0ff"/>
<rect x="556.8" y="177.72" width="13.8" height="32.94" fill="#00c8c8"/>
<rect x="556.8" y="210.66" width="13.8" height="32.94" fill="#00d28c"/>
<rect x="556.8" y="243.60" width="13.8" height="32.94" fill="#aaaaaa"/>
<rect x="556.8" y="276.54" width="13.8" height="32.94" fill="#e6dc32"/>
<rect x="556.8" y="309.48" width="13.8" height="32.94" fill="#e6af2d"/>
<rect x="556.8" y="342.42" width="13.8" height="32.94" fill="#f08228"/>
<rect x="556.8" y="375.36" width="13.8" height="32.94" fill="#fa3c3c"/>
<path d="M556.8,408.30 L563.7,441.30 L570.6,408.30Z" fill="#f00082"/>
</g>
<text class="cb" x="574.0" y="84.1">50</text>
<text class="cb" x="574.0" y="117.0">40</text>
<text class="cb" x="574.0" y="150.0">30</text>
<text class="cb" x="574.0" y="182.9">20</text>
<text class="cb" x="574.0" y="215.9">10</text>
<text class="cb" x="574.0" y="248.8">0</text>
<line x1="575.4" x2="581.2" y1="276.9" y2="276.9" stroke="#111" stroke-width="1.4"/>
<text class="cb" x="584.4" y="281.7">10</text>
<line x1="575.4" x2="581.2" y1="309.9" y2="309.9" stroke="#111" stroke-width="1.4"/>
<text class="cb" x="584.4" y="314.7">20</text>
<line x1="575.4" x2="581.2" y1="342.8" y2="342.8" stroke="#111" stroke-width="1.4"/>
<text class="cb" x="584.4" y="347.6">30</text>
<line x1="575.4" x2="581.2" y1="375.8" y2="375.8" stroke="#111" stroke-width="1.4"/>
<text class="cb" x="584.4" y="380.6">40</text>
<line x1="575.4" x2="581.2" y1="408.7" y2="408.7" stroke="#111" stroke-width="1.4"/>
<text class="cb" x="584.4" y="413.5">50</text>
<text x="549.2" y="32.6" font-size="20" fill="#111" textLength="30.5" lengthAdjust="spacingAndGlyphs">mm</text>
<text class="lg" x="629.5" y="176.6" textLength="166.5" lengthAdjust="spacingAndGlyphs">Superior a la normal</text>
<text class="lg" x="632.4" y="243.1" textLength="60.1" lengthAdjust="spacingAndGlyphs">Normal</text>
<text class="lg" x="630.1" y="302.3" textLength="156.9" lengthAdjust="spacingAndGlyphs">Inferior a la normal</text>
</svg></body></html>
